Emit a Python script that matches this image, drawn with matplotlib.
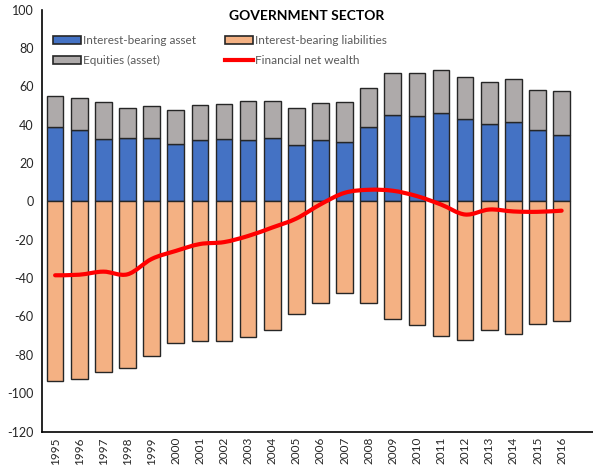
import matplotlib.pyplot as plt
from matplotlib.path import Path
from matplotlib.patches import PathPatch, Patch
from matplotlib.lines import Line2D

plt.rcParams['font.family'] = ['Lato', 'DejaVu Sans']
plt.rcParams['axes.unicode_minus'] = False

years = ['1995', '1996', '1997', '1998', '1999', '2000', '2001', '2002', '2003', '2004', '2005',
         '2006', '2007', '2008', '2009', '2010', '2011', '2012', '2013', '2014', '2015', '2016']
ib_asset = [38.9, 37.5, 32.8, 33.0, 33.0, 30.2, 31.9, 32.6, 31.9, 33.0, 29.3,
            31.9, 31.2, 39.1, 44.9, 44.5, 46.4, 42.9, 40.5, 41.7, 37.4, 34.9]
equities = [15.9, 16.4, 19.2, 15.9, 16.9, 17.6, 18.4, 18.5, 20.3, 19.5, 19.6,
            19.6, 20.6, 20.2, 22.3, 22.7, 22.4, 21.9, 22.0, 22.0, 20.9, 22.7]
ib_liab = [-93.7, -92.5, -88.7, -86.9, -80.7, -73.7, -72.7, -72.7, -70.8, -67.1, -58.6,
           -52.8, -47.5, -53.2, -61.2, -64.3, -70.4, -72.0, -66.8, -69.2, -64.0, -62.6]
net_wealth = [-38.5, -38.2, -36.6, -38.0, -30.0, -25.8, -22.2, -21.2, -18.0, -13.6, -8.9,
              -1.5, 4.5, 6.1, 5.6, 2.8, -1.6, -6.8, -4.2, -5.2, -5.4, -4.8]

fig = plt.figure(figsize=(5.93, 4.66), dpi=100)
ax = fig.add_axes([0.071, 0.074, 0.929, 0.905])

x = list(range(len(years)))
w = 0.69
ec = '#262626'
ax.bar(x, ib_asset, w, color='#4472C4', edgecolor=ec, linewidth=1.0, zorder=2)
ax.bar(x, equities, w, bottom=ib_asset, color='#AEAAAA', edgecolor=ec, linewidth=1.0, zorder=2)
ax.bar(x, ib_liab, w, color='#F4B183', edgecolor=ec, linewidth=1.0, zorder=2)

# smoothed line like excel (catmull-rom -> bezier)
verts = [(x[0], net_wealth[0])]
codes = [Path.MOVETO]
n = len(x)
for i in range(n - 1):
    p0 = (x[max(i - 1, 0)], net_wealth[max(i - 1, 0)])
    p1 = (x[i], net_wealth[i])
    p2 = (x[i + 1], net_wealth[i + 1])
    p3 = (x[min(i + 2, n - 1)], net_wealth[min(i + 2, n - 1)])
    c1 = (p1[0] + (p2[0] - p0[0]) / 6, p1[1] + (p2[1] - p0[1]) / 6)
    c2 = (p2[0] - (p3[0] - p1[0]) / 6, p2[1] - (p3[1] - p1[1]) / 6)
    verts += [c1, c2, p2]
    codes += [Path.CURVE4] * 3
ax.add_patch(PathPatch(Path(verts, codes), fill=False, edgecolor='#FF0000', lw=3.0,
                       capstyle='round', joinstyle='round', zorder=3))

ax.set_xlim(-0.54, 22.3)
ax.set_ylim(-120, 100)
ax.set_yticks(range(-120, 101, 20))
ax.set_xticks(x)
ax.set_xticklabels(years, rotation=90, fontsize=8.5)
ax.tick_params(axis='y', labelsize=9, length=0, pad=6, colors='#262626')
ax.tick_params(axis='x', length=0, pad=4, colors='#262626')
for s in ['top', 'right']:
    ax.spines[s].set_visible(False)
for s in ['left', 'bottom']:
    ax.spines[s].set_linewidth(1.2)
    ax.spines[s].set_color('#000000')

ax.text(0.48, 0.985, 'GOVERNMENT SECTOR', transform=ax.transAxes, ha='center', va='center',
        fontsize=10, fontweight='bold')

handles = [Patch(facecolor='#4472C4', edgecolor=ec, lw=1.2),
           Patch(facecolor='#AEAAAA', edgecolor=ec, lw=1.2),
           Patch(facecolor='#F4B183', edgecolor=ec, lw=1.2),
           Line2D([], [], color='#FF0000', lw=3.0)]
labels = ['Interest-bearing asset', 'Equities (asset)', 'Interest-bearing liabilities', 'Financial net wealth']
leg = ax.legend(handles, labels, ncol=2, loc='upper left', bbox_to_anchor=(0.0, 0.965),
                frameon=False, fontsize=8.5, handlelength=2.4, handletextpad=0.2,
                columnspacing=2.4, labelspacing=0.75)
for t in leg.get_texts():
    t.set_color('#595959')

plt.savefig('out.png', dpi=100)
